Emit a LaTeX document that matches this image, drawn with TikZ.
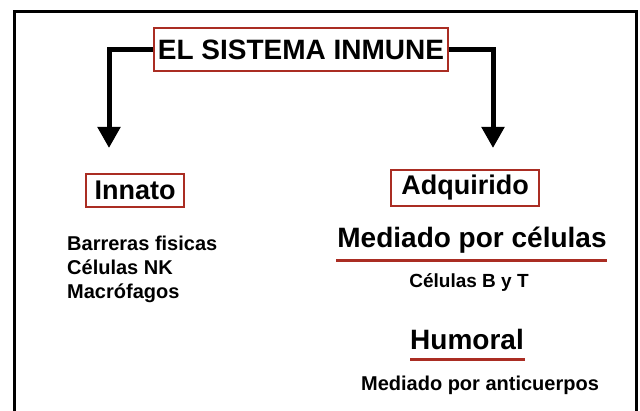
\documentclass[tikz,border=0pt]{standalone}
\usepackage{fontspec}
\setmainfont{Liberation Sans}
\usepackage{tikz}
\usetikzlibrary{positioning,calc}
\usetikzlibrary{arrows.meta}
\definecolor{RojoOscuro}{RGB}{170,45,35}
\tikzset{
	caja/.style={draw=RojoOscuro,line width=2pt,inner sep=0pt,
		font=\bfseries\fontsize{27}{30}\selectfont},
	flecha/.style={draw=black,line width=5pt,-{Triangle[width=22pt,length=21pt]}},
	subtitulo/.style={inner sep=0pt,anchor=base,font=\bfseries\fontsize{28}{32}\selectfont},
	texto/.style={inner sep=0pt,font=\bfseries\fontsize{20}{24}\selectfont},
	subrayado/.style={draw=RojoOscuro,line width=3pt},
}

\begin{document}
\begin{tikzpicture}[x=1pt,y=-1pt]
	\useasboundingbox (0,0) rectangle (640,411);
	% marco abierto por abajo
	\draw[line width=3pt] (14,411) -- (14,12) -- (636,12) -- (636,411);
	\node[caja,minimum width=294pt,minimum height=43pt,font=\bfseries\fontsize{28}{32}\selectfont] (sistema) at (301,49.5) {EL SISTEMA INMUNE};
	\node[caja,minimum width=98pt,minimum height=33pt] (innato) at (135,190.5) {Innato};
	\node[caja,minimum width=148pt,minimum height=36pt] (adquirido) at (465,188) {Adquirido};
	\coordinate (izq) at (109,148);
	\coordinate (der) at (493,148);
	\draw[flecha] (sistema.west) -| (izq);
	\draw[flecha] (sistema.east) -| (der);
	% lista del lado innato
	\foreach \n/\t/\y in {b/Barreras fisicas/251,c/Células NK/275,m/Macrófagos/299}
		\node[texto,anchor=base west] (\n) at (67,\y) {\t};
	% lado adquirido
	\node[subtitulo] (celular) at (472,248) {Mediado por células};
	\draw[subrayado] (336,261) -- (607,261);
	\node[texto,anchor=base,font=\bfseries\fontsize{19}{22}\selectfont] (bt) at (469,288) {Células B y T};
	\node[subtitulo] (humoral) at (467,350) {Humoral};
	\draw[subrayado] (410,360) -- (525,360);
	\node[texto,anchor=base] (anticuerpos) at (480,391) {Mediado por anticuerpos};
\end{tikzpicture}
\end{document}
